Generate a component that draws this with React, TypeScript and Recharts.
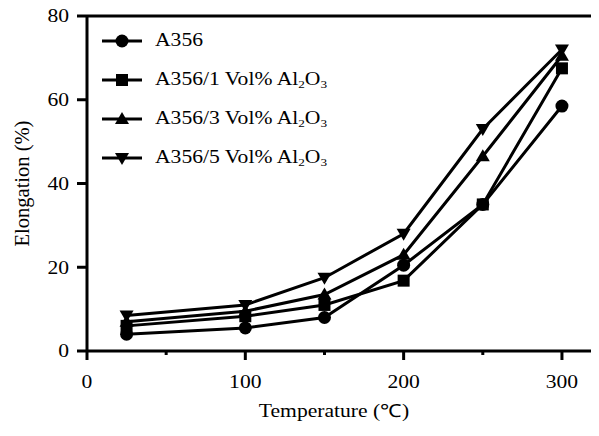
import { Label, Legend, Line, LineChart, ReferenceLine, XAxis, YAxis } from 'recharts';

// temperatures (°C) and elongation (%)
const temps = [25, 100, 150, 200, 250, 300];
const a356 = [4, 5.5, 8, 20.5, 35, 58.5];
const vol1 = [6, 8.3, 11, 16.8, 35, 67.5];
const vol3 = [7, 9.5, 13.5, 23, 46.5, 70.5];
const vol5 = [8.5, 11, 17.5, 28, 53, 72];

const seriesKeys = ['a356', 'vol1', 'vol3', 'vol5'];
const seriesNames = ['A356', 'A356/1 Vol% Al2O3', 'A356/3 Vol% Al2O3', 'A356/5 Vol% Al2O3'];
const xTicks = [0, 50, 100, 150, 200, 250, 300];
const yTicks = [0, 20, 40, 60, 80];

const rows = temps.map((t, i) => ({
  t,
  a356: a356[i],
  vol1: vol1[i],
  vol3: vol3[i],
  vol5: vol5[i],
}));

const FONT = '"Liberation Serif", "Times New Roman", serif';
const FS = 18;
const SX = 1.2;

const marker = (idx: number, cx: number, cy: number, key?: string) => {
  if (idx === 0) return <circle key={key} cx={cx} cy={cy} r={6.5} fill='#000' />;
  if (idx === 1)
    return <rect key={key} x={cx - 6} y={cy - 6} width={12} height={12} fill='#000' />;
  if (idx === 2)
    return (
      <polygon
        key={key}
        points={`${cx},${cy - 7} ${cx + 7},${cy + 5} ${cx - 7},${cy + 5}`}
        fill='#000'
      />
    );
  return (
    <polygon
      key={key}
      points={`${cx - 7},${cy - 5} ${cx + 7},${cy - 5} ${cx},${cy + 7}`}
      fill='#000'
    />
  );
};

const makeDot = (idx: number) => (p: any) => {
  if (p.cx == null || p.cy == null) return <g key={`e-${idx}-${p.index}`} />;
  return marker(idx, p.cx, p.cy, `d-${idx}-${p.index}`);
};

const renderName = (name: string) => {
  const m = name.match(/^(.*)Al2O3$/);
  if (!m) return name;
  const sub = { fontSize: 11, position: 'relative' as const, top: 3, verticalAlign: 'baseline' };
  return (
    <>
      {m[1]}Al<span style={sub}>2</span>O<span style={sub}>3</span>
    </>
  );
};

const LegendBox = () => (
  <div>
    {seriesNames.map((name, i) => (
      <div key={name} style={{ height: 39, display: 'flex', alignItems: 'center' }}>
        <svg width={44} height={20} style={{ display: 'block' }}>
          <line x1={2} x2={42} y1={10} y2={10} stroke='#000' strokeWidth={3} />
          {marker(i, 22, 10)}
        </svg>
        <span
          style={{
            marginLeft: 11,
            display: 'inline-block',
            transform: `scaleX(${SX})`,
            transformOrigin: 'left center',
            fontFamily: FONT,
            fontSize: FS,
            whiteSpace: 'nowrap',
            color: '#000',
          }}
        >
          {renderName(name)}
        </span>
      </div>
    ))}
  </div>
);

const XTick = ({ x, y, payload }: any) => {
  const major = payload.value % 100 === 0;
  return (
    <g>
      <line x1={x} x2={x} y1={y} y2={y + (major ? 9 : 4)} stroke='#000' strokeWidth={3} />
      {major && (
        <text
          transform={`translate(${x},${y + 37}) scale(${SX},1)`}
          textAnchor='middle'
          fontFamily={FONT}
          fontSize={FS}
          fill='#000'
        >
          {payload.value}
        </text>
      )}
    </g>
  );
};

const YTick = ({ x, y, payload }: any) => (
  <text
    transform={`translate(${x},${y}) scale(${SX},1)`}
    textAnchor='end'
    dy='0.35em'
    fontFamily={FONT}
    fontSize={FS}
    fill='#000'
  >
    {payload.value}
  </text>
);

const XTitle = ({ viewBox }: any) => (
  <text
    transform={`translate(${viewBox.x + viewBox.width / 2 - 9},${viewBox.y + 66}) scale(${SX},1)`}
    textAnchor='middle'
    fontFamily={FONT}
    fontSize={FS}
    fill='#000'
  >
    Temperature (℃)
  </text>
);

const YTitle = ({ viewBox }: any) => {
  const cx = 22;
  const cy = viewBox.y + viewBox.height / 2;
  return (
    <text
      transform={`translate(${cx},${cy}) rotate(-90) scale(1.08,1.15)`}
      textAnchor='middle'
      dominantBaseline='central'
      fontFamily={FONT}
      fontSize={19}
      fill='#000'
    >
      Elongation (%)
    </text>
  );
};

export default function App() {
  return (
    <div style={{ margin: '-8px 0 -8px -8px', width: 599, height: 436, background: '#fff' }}>
      <LineChart width={599} height={436} data={rows} margin={{ top: 16, right: 0, bottom: 5, left: 0 }}>
        <XAxis
          dataKey='t'
          type='number'
          domain={[0, 323.4]}
          allowDataOverflow
          ticks={xTicks}
          interval={0}
          height={80}
          tickSize={0}
          tickMargin={0}
          tickLine={false}
          tick={<XTick />}
          axisLine={{ stroke: '#000', strokeWidth: 3 }}
        >
          <Label content={<XTitle />} />
        </XAxis>
        <YAxis
          type='number'
          domain={[0, 80]}
          ticks={yTicks}
          interval={0}
          width={87}
          tickSize={10}
          tickMargin={8}
          tick={<YTick />}
          tickLine={{ stroke: '#000', strokeWidth: 3 }}
          axisLine={{ stroke: '#000', strokeWidth: 3 }}
        >
          <Label content={<YTitle />} />
        </YAxis>
        <ReferenceLine y={80} stroke='#000' strokeWidth={3} />
        <Legend
          layout='vertical'
          align='center'
          verticalAlign='middle'
          wrapperStyle={{ left: 100, top: 21, width: 280 }}
          content={<LegendBox />}
        />
        {seriesKeys.map((k, i) => (
          <Line
            key={k}
            dataKey={k}
            name={seriesNames[i]}
            type='linear'
            stroke='#000'
            strokeWidth={3}
            dot={makeDot(i)}
            activeDot={false}
            isAnimationActive={false}
          />
        ))}
      </LineChart>
    </div>
  );
}
